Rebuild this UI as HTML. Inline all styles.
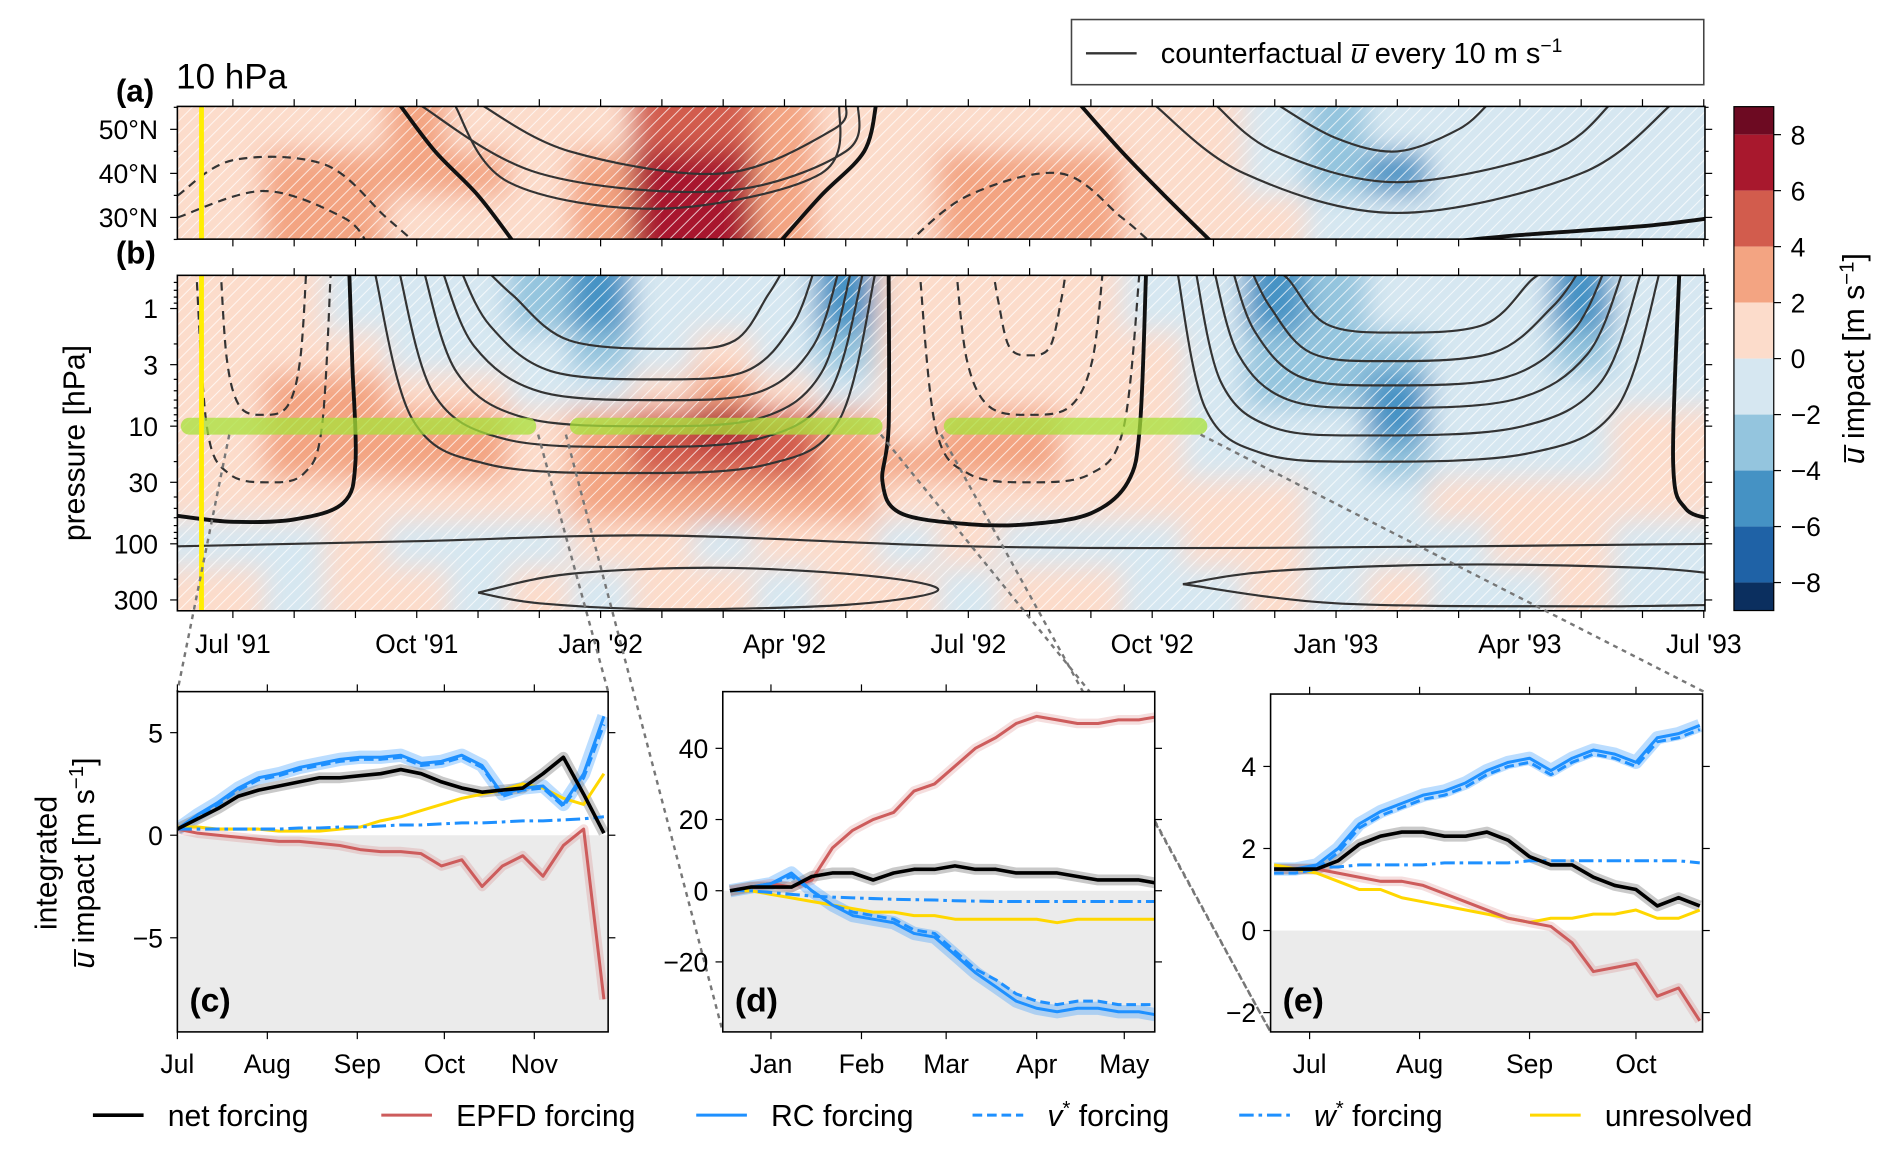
<!DOCTYPE html>
<html><head><meta charset="utf-8"><style>
html,body{margin:0;padding:0;background:#fff}
svg{display:block;font-family:"Liberation Sans","DejaVu Sans",sans-serif}
</style></head><body>
<svg id="fig" xmlns="http://www.w3.org/2000/svg" width="1892" height="1154" viewBox="0 0 1568 956">
<defs>
<pattern id="hatch" patternUnits="userSpaceOnUse" width="7" height="7" patternTransform="rotate(45)">
<line x1="0" y1="0" x2="0" y2="7" stroke="#fff" stroke-width="1.6"/></pattern>
<clipPath id="clipA"><rect x="147" y="88" width="1266" height="110"/></clipPath>
<clipPath id="clipB"><rect x="147" y="228" width="1266" height="278"/></clipPath>
<filter id="blur" x="-5%" y="-30%" width="110%" height="160%"><feGaussianBlur stdDeviation="11"/></filter>
</defs>
</svg>
<script>
// ---------- DATA ----------
const months = ["Jul '91","Aug","Sep","Oct '91","Nov","Dec","Jan '92","Feb","Mar","Apr '92","May","Jun","Jul '92","Aug","Sep","Oct '92","Nov","Dec","Jan '93","Feb","Mar","Apr '93","May","Jun"];
const monthTickLabels = ["Jul '91","Oct '91","Jan '92","Apr '92","Jul '92","Oct '92","Jan '93","Apr '93","Jul '93"];
const presLevels = [1,2.5,5,10,20,40,100,250];
const presTicks = [1,3,10,30,100,300];
const impB_1   = [0.5,0.5,-0.5,-0.5,-1,-3,-5,-1,-1,-2,-5,0.5,0.5,0.5,0.5,-1,-1,-5,-3,-2,-1,-1,-5,-1];
const impB_2p5 = [0.5,0.5,0.5,-0.5,-1,-1,-3,-1,1,-1,-3,0.5,0.5,0.5,0.5,0.5,-1,-4,-3,-3,-1,-1,-3,-1];
const impB_5   = [1,3,3,1,1,-1,-1,1,2,1,-1,0.5,1,1,1,0.5,-0.5,-3,-3,-6,-2,-1,-2,-0.5];
const impB_10  = [1,3,3,3,2,1,2,4,6,4,2,1,3,3,1,0.5,-0.5,-2,-2,-6,-1,-1,-1,0.5];
const impB_20  = [1,3,3,3,3,1,3,5,5,4,3,2,3,3,1,0.5,-0.5,-1,-1,-3,-1,-0.5,-0.5,0.5];
const impB_40  = [0.5,1,1,1,1,1,2,3,3,2,2,1,1,1,0.5,0.5,0.5,0.5,-0.5,-1,0.5,0.5,0.5,0.5];
const impB_100 = [-0.5,-0.5,0.5,-0.5,-0.5,-0.5,0.5,0.5,-0.5,0.5,0.5,-0.5,0.5,-0.5,-0.5,-0.5,0.5,0.5,-0.5,-0.5,-0.5,0.5,0.5,-0.5];
const impB_250 = [0.5,-0.5,0.5,0.5,-0.5,0.5,-0.5,0.5,0.5,-0.5,0.5,0.5,-0.5,0.5,0.5,-0.5,-0.5,0.5,-0.5,0.5,-0.5,-0.5,0.5,-0.5];
const latLevels = [50,40,30];
const latTicks = [50,40,30];
const impA_50 = [0.5,1,1,3,1,0.5,1,4,4,2,0.5,0.5,0.5,0.5,0.5,0.5,0.5,-1,-3,-1,-0.5,-0.5,-2,-2];
const impA_40 = [1,3,3,3,2,1,3,6,7,3,1,0.5,3,3,3,1,0.5,-1,-3,-6,-2,-0.5,-0.5,-0.5];
const impA_30 = [0.5,3,3,1,1,1,3,6,6,2,1,0.5,2,3,3,1,0.5,0.5,-1,-1,-1,-0.5,-0.5,-0.5];
const cbarLevels = [8,6,4,2,0,-2,-4,-6,-8];
const cbarColors = ['#6d0a22','#a8182d','#d25c4d','#f3a482','#fcdccb','#d6e7f1','#94c5de','#4592c4','#1f62a6','#0b2f5f'];

const winter1 = [[2.3,6.5,25,10.5],[2.7,6.5,15,10.3],[3.1,6.8,10,10.1],[3.4,7,6,9.9],[3.7,7,4,9.5],[4.1,7.2,2.2,9.0]];
const winter2 = [[15.4,18.5,20,23.3],[15.7,18.5,12,23.0],[16.0,18.7,7,22.7],[16.3,18.8,4.5,22.4],[16.6,18.8,2.8,22.0],[16.9,19,1.6,21.6]];
const summerDash = [[-0.6,0.6,30,1.6],[-0.2,0.5,8,1.2],[11.2,13,30,14.8],[11.8,13,8,14.2],[12.4,13,2.5,13.6]];
const thick1 = [[-0.9,58],[0,65],[1,62],[1.8,45],[2.0,20],[1.95,3],[1.9,0.5]];
const thick2 = [[10.7,0.5],[10.7,10],[10.6,30],[10.9,55],[12,68],[13,68],[14,55],[14.6,30],[14.8,10],[14.9,0.5]];
const thick3 = [[23.6,0.5],[23.5,20],[23.7,50],[24.2,62]];
const flatLine = [[-0.9,105],[3,95],[7,85],[12,105],[17,108],[24.2,100]];
const ovalA = [[4,260],[5.5,180],[8,160],[10.5,190],[11.5,250],[10,330],[7,360],[5,320],[4,260]];
const ovalB = [[15.5,220],[17,170],[20,150],[23,160],[24.2,180]];
const ovalB2 = [[24.2,330],[22,340],[18,320],[15.5,220]];
const aThick = [[[2.7,56],[3.3,45],[4.0,35],[4.6,24]],[[8.9,24],[9.6,35],[10.3,45],[10.5,56]],[[13.8,56],[14.5,45],[15.2,35],[16,24]],[[19.5,24],[21,26],[23,28],[24.2,30]]];
const aThin = [[[3,56],[5,40],[8,36],[10,45],[10.2,56]],[[4,56],[5.5,45],[8,40],[9.8,50],[10,56]],[[3.6,56],[4.5,38],[7,32],[9.6,40],[9.9,56]],[[15,56],[16.5,40],[19,31],[22,40],[23.5,56]],[[16,56],[17,45],[19,38],[21.5,45],[22.5,56]],[[17,56],[18,48],[19,45],[20,50],[20.5,56]]];
const aDash = [[[-0.9,35],[0,43],[1.5,42],[2.5,30],[3,24]],[[-0.9,30],[0.5,36],[1.8,30],[2.2,24]],[[11,24],[12,35],[13.5,40],[14.5,30],[15,24]]];

const daysC = [0,7,14,21,28,35,42,49,56,63,70,77,84,91,98,105,112,119,126,133,140,147];
const netC  = [0.3,0.8,1.3,1.9,2.2,2.4,2.6,2.8,2.8,2.9,3.0,3.2,3.0,2.6,2.3,2.1,2.2,2.3,3.0,3.8,2.0,0.1];
const epfdC = [0.3,0.1,0,-0.1,-0.2,-0.3,-0.3,-0.4,-0.5,-0.7,-0.8,-0.8,-0.9,-1.5,-1.2,-2.5,-1.5,-1.0,-2.0,-0.5,0.3,-8.0];
const rcC   = [0.3,1.0,1.6,2.3,2.8,3.0,3.3,3.5,3.7,3.8,3.8,3.9,3.5,3.6,3.9,3.4,2.0,2.3,2.4,1.5,3.0,5.8];
const vC    = [0.3,0.9,1.5,2.2,2.7,2.9,3.2,3.4,3.6,3.7,3.7,3.8,3.4,3.5,3.8,3.3,1.9,2.2,2.3,1.4,2.8,5.4];
const wC    = [0.3,0.3,0.3,0.3,0.3,0.3,0.35,0.35,0.4,0.4,0.45,0.5,0.5,0.55,0.6,0.6,0.65,0.7,0.7,0.75,0.8,0.9];
const unrC  = [0.4,0.4,0.3,0.3,0.3,0.2,0.2,0.2,0.3,0.4,0.7,0.9,1.2,1.5,1.8,2.0,2.2,2.5,2.3,1.8,1.5,3.0];
const daysD = [-14,-7,0,7,14,21,28,35,42,49,56,63,70,77,84,91,98,105,112,119,126,133];
const netD  = [0,1,1,1,4,5,5,3,5,6,6,7,6,6,5,5,5,4,3,3,3,2];
const epfdD = [0,1,2,1,3,12,17,20,22,28,30,35,40,43,47,49,48,47,47,48,48,49];
const rcD   = [0,1,2,5,0,-4,-7,-8,-9,-12,-13,-18,-23,-27,-31,-33,-34,-33,-33,-34,-34,-35];
const vD    = [0,1,2,4,0,-4,-6,-7,-8,-11,-12,-17,-22,-25,-29,-31,-32,-31,-31,-32,-32,-32];
const wD    = [0,0,-0.5,-1,-1.5,-1.8,-2,-2.2,-2.4,-2.5,-2.6,-2.8,-2.9,-3,-3,-3,-3,-3,-3,-3,-3,-3];
const unrD  = [0,0,-1,-2,-3,-4,-5,-6,-6,-7,-7,-8,-8,-8,-8,-8,-9,-8,-8,-8,-8,-8];
const daysE = [-10,-4,2,8,14,20,26,32,38,44,50,56,62,68,74,80,86,92,98,104,110];
const netE  = [1.5,1.5,1.5,1.7,2.1,2.3,2.4,2.4,2.3,2.3,2.4,2.2,1.8,1.6,1.6,1.3,1.1,1.0,0.6,0.8,0.6];
const epfdE = [1.5,1.5,1.5,1.4,1.3,1.2,1.2,1.1,0.9,0.7,0.5,0.3,0.2,0.1,-0.3,-1.0,-0.9,-0.8,-1.6,-1.4,-2.2];
const rcE   = [1.5,1.5,1.6,2.0,2.6,2.9,3.1,3.3,3.4,3.6,3.9,4.1,4.2,3.9,4.2,4.4,4.3,4.1,4.7,4.8,5.0];
const vE    = [1.4,1.4,1.5,1.9,2.5,2.8,3.0,3.2,3.3,3.5,3.8,4.0,4.1,3.8,4.1,4.3,4.2,4.0,4.6,4.7,4.9];
const wE    = [1.5,1.5,1.55,1.55,1.6,1.6,1.6,1.6,1.65,1.65,1.65,1.65,1.7,1.7,1.7,1.7,1.7,1.7,1.7,1.7,1.65];
const unrE  = [1.6,1.5,1.4,1.2,1.0,1.0,0.8,0.7,0.6,0.5,0.4,0.3,0.2,0.3,0.3,0.4,0.4,0.5,0.3,0.3,0.5];
const ticksC = [5,0,-5], ticksD = [40,20,0,-20], ticksE = [4,2,0,-2];
const xLabC = ["Jul","Aug","Sep","Oct","Nov"], xDayC = [0,31,62,92,123];
const xLabD = ["Jan","Feb","Mar","Apr","May"], xDayD = [0,31,60,91,121];
const xLabE = ["Jul","Aug","Sep","Oct"], xDayE = [0,31,62,92];

// ---------- HELPERS ----------
const svg = document.getElementById('fig');
const NS = 'http://www.w3.org/2000/svg';
function mk(tag, attrs, parent){const e=document.createElementNS(NS,tag);for(const k in attrs)e.setAttribute(k,attrs[k]);(parent||svg).appendChild(e);return e;}
function txt(s, attrs, parent){const e=mk('text',attrs,parent);e.textContent=s;return e;}
const xm = m => 193 + m*(1412-193)/24;
const yp = p => 353 + 97.5*Math.log10(p/10);
const ylat = l => 180 - (l-30)*3.65;
function colorOf(v){for(let i=0;i<cbarLevels.length;i++){if(v>=cbarLevels[i])return cbarColors[i];}return cbarColors[cbarColors.length-1];}
function smooth(pts){let d='M'+pts[0][0].toFixed(1)+','+pts[0][1].toFixed(1);
 for(let i=0;i<pts.length-1;i++){const p0=pts[Math.max(0,i-1)],p1=pts[i],p2=pts[i+1],p3=pts[Math.min(pts.length-1,i+2)];
  const c1=[p1[0]+(p2[0]-p0[0])/6,p1[1]+(p2[1]-p0[1])/6],c2=[p2[0]-(p3[0]-p1[0])/6,p2[1]-(p3[1]-p1[1])/6];
  d+=` C${c1[0].toFixed(1)},${c1[1].toFixed(1)} ${c2[0].toFixed(1)},${c2[1].toFixed(1)} ${p2[0].toFixed(1)},${p2[1].toFixed(1)}`;}
 return d;}
function uShape(c){const [mL,mB,pB,mR]=c;return [[mL,0.45],[mL+(mB-mL)*0.15,pB*0.35],[mL+(mB-mL)*0.45,pB*0.85],[mB,pB],[mR-(mR-mB)*0.45,pB*0.85],[mR-(mR-mB)*0.15,pB*0.35],[mR,0.45]];}

// ---------- PANEL B ----------
const gB = mk('g',{'clip-path':'url(#clipB)'});


const heatB = mk('g',{filter:'url(#blur)'},gB);
const rowsB=[impB_1,impB_2p5,impB_5,impB_10,impB_20,impB_40,impB_100,impB_250];
const bnd = [0.2]; for(let i=0;i<presLevels.length-1;i++)bnd.push(Math.sqrt(presLevels[i]*presLevels[i+1])); bnd.push(800);
rowsB.forEach((row,r)=>row.forEach((v,m)=>{
 const x0=m===0?100:xm(m-0.5), x1=m===row.length-1?1460:xm(m+0.5);
 const c=mk('rect',{x:x0,y:yp(bnd[r]),width:x1-x0+0.5,height:yp(bnd[r+1])-yp(bnd[r])+0.5,fill:colorOf(v)},heatB);
 
 
}));
mk('rect',{x:147,y:228,width:1266,height:278,fill:'url(#hatch)',opacity:0.75},gB);
const contB = mk('g',{fill:'none',stroke:'#333'},gB);
function contLine(pts, w, dash, nm){const e=mk('path',{d:smooth(pts.map(p=>[xm(p[0]),yp(p[1])])),'stroke-width':w,'stroke-dasharray':dash||'none',stroke:w>2.5?'#111':'#333'},contB);
 
 }
winter1.forEach(c=>contLine(uShape(c),1.8,null,'contour-westerly'));
winter2.forEach(c=>contLine(uShape(c),1.8,null,'contour-westerly'));
summerDash.forEach(c=>contLine(uShape(c),1.8,'7,5','contour-easterly'));
[thick1,thick2,thick3].forEach(c=>contLine(c,3.2,null,'contour-zero'));
[flatLine,ovalA,ovalB,ovalB2].forEach(c=>contLine(c,1.8,null,'contour-lower'));
[[-0.85,4.95],[5.5,10.6],[11.6,15.9]].forEach(b=>{const e=mk('rect',{x:xm(b[0]),y:346,width:xm(b[1])-xm(b[0]),height:14,rx:7,fill:'#a8e23a',opacity:0.75},gB);
 
 });
mk('line',{x1:167,y1:228,x2:167,y2:506,stroke:'#ffee00','stroke-width':4},gB);
const frB=mk('rect',{x:147,y:228,width:1266,height:278,fill:'none',stroke:'#000','stroke-width':1.3});



// ---------- PANEL A ----------
const gA = mk('g',{'clip-path':'url(#clipA)'});


const heatA = mk('g',{filter:'url(#blur)'},gA);
const rowsA=[impA_50,impA_40,impA_30]; const bndA=[70,45,35,10];
rowsA.forEach((row,r)=>row.forEach((v,m)=>{
 const x0=m===0?100:xm(m-0.5), x1=m===row.length-1?1460:xm(m+0.5);
 const c=mk('rect',{x:x0,y:ylat(bndA[r]),width:x1-x0+0.5,height:ylat(bndA[r+1])-ylat(bndA[r])+0.5,fill:colorOf(v)},heatA);
 
 
}));
mk('rect',{x:147,y:88,width:1266,height:110,fill:'url(#hatch)',opacity:0.75},gA);
function contA(pts,w,dash,nm){const e=mk('path',{d:smooth(pts.map(p=>[xm(p[0]),ylat(p[1])])),fill:'none',stroke:w>2.5?'#111':'#333','stroke-width':w,'stroke-dasharray':dash||'none'},gA);
 
 }
aThick.forEach(c=>contA(c,3.2,null,'contour-zero'));
aThin.forEach(c=>contA(c,1.8,null,'contour-westerly'));
aDash.forEach(c=>contA(c,1.8,'7,5','contour-easterly'));
mk('line',{x1:167,y1:88,x2:167,y2:198,stroke:'#ffee00','stroke-width':4},gA);
const frA=mk('rect',{x:147,y:88,width:1266,height:110,fill:'none',stroke:'#000','stroke-width':1.3});



// ---------- AXES TOP ----------
for(let m=0;m<=24;m++){const x=xm(m);
 [[198,204],[88,82],[228,222],[506,512]].forEach(t=>mk('line',{x1:x,y1:t[0],x2:x,y2:t[1],stroke:'#000','stroke-width':1}));}
monthTickLabels.forEach((s,i)=>{const t=txt(s,{x:xm(i*3),y:541,'font-size':22,'text-anchor':'middle'});
 
 });
presTicks.forEach(p=>{mk('line',{x1:141,y1:yp(p),x2:147,y2:yp(p),stroke:'#000'});mk('line',{x1:1413,y1:yp(p),x2:1419,y2:yp(p),stroke:'#000'});
 const t=txt(String(p),{x:131,y:yp(p)+8,'font-size':22,'text-anchor':'end'});
 
 });
[0.6,0.7,0.8,0.9,2,4,5,6,7,8,9,20,40,50,60,70,80,90,200].forEach(p=>{if(yp(p)>228&&yp(p)<506){mk('line',{x1:144,y1:yp(p),x2:147,y2:yp(p),stroke:'#000'});mk('line',{x1:1413,y1:yp(p),x2:1416,y2:yp(p),stroke:'#000'});}});
latTicks.forEach(l=>{mk('line',{x1:141,y1:ylat(l),x2:147,y2:ylat(l),stroke:'#000'});mk('line',{x1:1413,y1:ylat(l),x2:1419,y2:ylat(l),stroke:'#000'});
 const t=txt(l+'°N',{x:131,y:ylat(l)+8,'font-size':22,'text-anchor':'end'});
 
 });
[55,45,35,25].forEach(l=>{mk('line',{x1:144,y1:ylat(l),x2:147,y2:ylat(l),stroke:'#000'});mk('line',{x1:1413,y1:ylat(l),x2:1416,y2:ylat(l),stroke:'#000'});});
let t;
t=txt('(a)',{x:96,y:84,'font-size':26,'font-weight':'bold'});
t=txt('10 hPa',{x:146,y:73,'font-size':29});
t=txt('(b)',{x:96,y:218,'font-size':26,'font-weight':'bold'});
t=txt('pressure [hPa]',{x:0,y:0,'font-size':25,'text-anchor':'middle',transform:'translate(70,367) rotate(-90)'});

const lg=mk('g',{});
mk('rect',{x:888,y:16,width:524,height:54,fill:'#fff',stroke:'#444','stroke-width':1.3},lg);
mk('line',{x1:900,y1:44,x2:942,y2:44,stroke:'#333','stroke-width':2},lg);
const lt=txt('',{x:962,y:52,'font-size':24},lg);
lt.innerHTML='counterfactual <tspan font-style="italic">u̅</tspan> every 10 m s<tspan dy="-9" font-size="16">−1</tspan>';

const cb=mk('g',{});
const cy = v => 297 - v*23.2;
const cbEdges=[9.0].concat(cbarLevels).concat([-9.0]);
for(let i=0;i<cbarColors.length;i++){const e=mk('rect',{x:1437,y:cy(cbEdges[i]),width:33,height:cy(cbEdges[i+1])-cy(cbEdges[i]),fill:cbarColors[i]},cb);
 
 }
mk('rect',{x:1437,y:cy(9),width:33,height:cy(-9)-cy(9),fill:'none',stroke:'#000'},cb);
cbarLevels.forEach(v=>{mk('line',{x1:1470,y1:cy(v),x2:1476,y2:cy(v),stroke:'#000'},cb);
 const e=txt(String(v).replace('-','−'),{x:1484,y:cy(v)+8,'font-size':22},cb);
 
 });
const cl=txt('',{x:0,y:0,'font-size':25,'text-anchor':'middle',transform:'translate(1545,297) rotate(-90)'});
cl.innerHTML='<tspan font-style="italic">u̅</tspan> impact [m s<tspan dy="-9" font-size="17">−1</tspan><tspan dy="9">]</tspan>';


[[190,360,147,573],[446,360,504,573],[469,360,599,855],[730,360,903,573],[780,360,1053,855],[995,360,1412,573],[957,680,1053,855]].forEach(l=>{
 const e=mk('line',{x1:l[0],y1:l[1],x2:l[2],y2:l[3],stroke:'#777','stroke-width':2,'stroke-dasharray':'4,4'});
 
 });

// ---------- BOTTOM PANELS ----------
function panel(cfg){
 const g=mk('g',{});
 const X=d=>cfg.x0+(d-cfg.d0)*cfg.px, Y=v=>cfg.yz-v*cfg.py;
 const cid='clip'+cfg.tag;const cp=mk('clipPath',{id:cid},svg.querySelector('defs'));mk('rect',{x:cfg.x0,y:cfg.y0,width:cfg.x1-cfg.x0,height:cfg.y1-cfg.y0},cp);
 mk('rect',{x:cfg.x0,y:cfg.y0,width:cfg.x1-cfg.x0,height:cfg.y1-cfg.y0,fill:'#fff'},g);
 mk('rect',{x:cfg.x0,y:Y(0),width:cfg.x1-cfg.x0,height:cfg.y1-Y(0),fill:'#ebebeb'},g);
 const pg=mk('g',{'clip-path':`url(#${cid})`,fill:'none','stroke-linejoin':'round'},g);
 function line(vals,col,w,dash,nm,op){const pts=cfg.days.map((d,i)=>X(d).toFixed(1)+','+Y(vals[i]).toFixed(1)).join(' ');
  const e=mk('polyline',{points:pts,stroke:col,'stroke-width':w,'stroke-dasharray':dash||'none',opacity:op||1},pg);
  
  }
 line(cfg.rc,'#1e90ff',11,null,'rc-spread',0.3);
 line(cfg.net,'#888',9,null,'net-spread',0.45);
 line(cfg.epfd,'#cd5c5c',8,null,'epfd-spread',0.2);
 line(cfg.unr,'#ffd700',2.5,null,'unresolved-line');
 line(cfg.epfd,'#cd5c5c',2.5,null,'epfd-line');
 line(cfg.w,'#1e90ff',2.5,'12,4,3,4','w-star-line');
 line(cfg.v,'#1e90ff',2.5,'8,4','v-star-line');
 line(cfg.rc,'#1e90ff',2.5,null,'rc-line');
 line(cfg.net,'#000',3,null,'net-line');
 mk('rect',{x:cfg.x0,y:cfg.y0,width:cfg.x1-cfg.x0,height:cfg.y1-cfg.y0,fill:'none',stroke:'#000','stroke-width':1.3},g);
 cfg.yt.forEach(v=>{mk('line',{x1:cfg.x0-6,y1:Y(v),x2:cfg.x0,y2:Y(v),stroke:'#000'},g);mk('line',{x1:cfg.x1,y1:Y(v),x2:cfg.x1+6,y2:Y(v),stroke:'#000'},g);
  const e=txt(String(v).replace('-','−'),{x:cfg.x0-12,y:Y(v)+8,'font-size':22,'text-anchor':'end'},g);
  
  });
 cfg.xd.forEach((d,i)=>{mk('line',{x1:X(d),y1:cfg.y1,x2:X(d),y2:cfg.y1+6,stroke:'#000'},g);mk('line',{x1:X(d),y1:cfg.y0,x2:X(d),y2:cfg.y0-6,stroke:'#000'},g);
  const e=txt(cfg.xl[i],{x:X(d),y:cfg.y1+34,'font-size':22,'text-anchor':'middle'},g);
  
  });
 const e=txt(cfg.lab,{x:cfg.x0+10,y:cfg.y1-17,'font-size':28,'font-weight':'bold'},g);
 
 
}
panel({name:'panel-c',tag:'C',x0:147,x1:504,y0:573,y1:855,d0:0,px:2.405,yz:692,py:17,days:daysC,net:netC,epfd:epfdC,rc:rcC,v:vC,w:wC,unr:unrC,yt:ticksC,xd:xDayC,xl:xLabC,lab:'(c)'});
panel({name:'panel-d',tag:'D',x0:599,x1:957,y0:573,y1:855,d0:-16.5,px:2.42,yz:738,py:2.95,days:daysD,net:netD,epfd:epfdD,rc:rcD,v:vD,w:wD,unr:unrD,yt:ticksD,xd:xDayD,xl:xLabD,lab:'(d)'});
panel({name:'panel-e',tag:'E',x0:1053,x1:1411,y0:575,y1:855,d0:-11,px:2.94,yz:771,py:34,days:daysE,net:netE,epfd:epfdE,rc:rcE,v:vE,w:wE,unr:unrE,yt:ticksE,xd:xDayE,xl:xLabE,lab:'(e)'});
const yl=txt('',{x:0,y:0,'font-size':25,'text-anchor':'middle',transform:'translate(47,715) rotate(-90)'});
yl.innerHTML='<tspan x="0" dy="0">integrated</tspan><tspan x="0" dy="31"><tspan font-style="italic">u̅</tspan> impact [m s<tspan dy="-9" font-size="17">−1</tspan><tspan dy="9">]</tspan></tspan>';


const legItems=[['net forcing','#000',3,null,77],['EPFD forcing','#cd5c5c',2.5,null,316],['RC forcing','#1e90ff',2.5,null,577],['v* forcing','#1e90ff',2.5,'8,4',806],['w* forcing','#1e90ff',2.5,'12,4,3,4',1027],['unresolved','#ffd700',2.5,null,1268]];
const lgB=mk('g',{});
legItems.forEach(it=>{const g=mk('g',{},lgB);
 
 
 mk('line',{x1:it[4],y1:924,x2:it[4]+42,y2:924,stroke:it[1],'stroke-width':it[2],'stroke-dasharray':it[3]||'none'},g);
 const e=txt('',{x:it[4]+62,y:933,'font-size':25},g);
 if(it[0].startsWith('v*')||it[0].startsWith('w*')){e.innerHTML='<tspan font-style="italic">'+it[0][0]+'</tspan><tspan dy="-9" font-size="17">*</tspan><tspan dy="9"> forcing</tspan>';}
 else e.textContent=it[0];});
</script>
</body></html>
